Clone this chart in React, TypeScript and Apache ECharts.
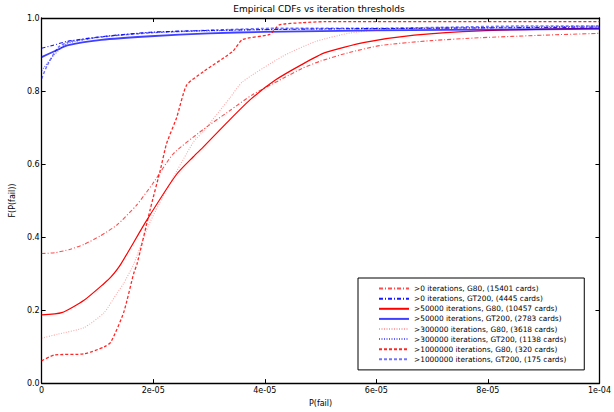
import React, { useEffect, useRef } from "react";
import * as echarts from "echarts";

const legendNames = [
  ">0 iterations, G80, (15401 cards)",
  ">0 iterations, GT200, (4445 cards)",
  ">50000 iterations, G80, (10457 cards)",
  ">50000 iterations, GT200, (2783 cards)",
  ">300000 iterations, G80, (3618 cards)",
  ">300000 iterations, GT200, (1138 cards)",
  ">1000000 iterations, G80, (320 cards)",
  ">1000000 iterations, GT200, (175 cards)",
];

const xTicks = [0, 2e-5, 4e-5, 6e-5, 8e-5, 1e-4];
const yTicks = [0, 0.2, 0.4, 0.6, 0.8, 1.0];

// >0 iterations, G80
const g80_0_x = [0, 0.23e-5, 0.5e-5, 0.76e-5, 1.05e-5, 1.35e-5, 1.7e-5, 2.0e-5, 2.36e-5, 2.9e-5, 3.37e-5, 3.78e-5, 4.32e-5, 4.67e-5, 5.0e-5, 5.5e-5, 6.09e-5, 6.98e-5, 7.87e-5, 9.0e-5, 1e-4];
const g80_0_y = [0.355, 0.357, 0.366, 0.38, 0.403, 0.433, 0.487, 0.548, 0.628, 0.695, 0.746, 0.79, 0.834, 0.862, 0.882, 0.905, 0.925, 0.938, 0.946, 0.953, 0.958];

// >0 iterations, GT200
const gt200_0_x = [0, 0.2e-5, 0.46e-5, 1.07e-5, 1.95e-5, 3.0e-5, 5.0e-5, 7.0e-5, 1e-4];
const gt200_0_y = [0.917, 0.925, 0.936, 0.949, 0.961, 0.966, 0.97, 0.972, 0.975];

// >50000 iterations, G80
const g80_50k_x = [0, 0.36e-5, 0.76e-5, 1.12e-5, 1.24e-5, 1.42e-5, 1.88e-5, 2.42e-5, 2.72e-5, 2.9e-5, 3.3e-5, 3.73e-5, 4.19e-5, 4.67e-5, 5.08e-5, 5.79e-5, 6.68e-5, 7.87e-5, 1e-4];
const g80_50k_y = [0.187, 0.193, 0.227, 0.273, 0.29, 0.326, 0.445, 0.572, 0.62, 0.647, 0.71, 0.775, 0.83, 0.873, 0.905, 0.933, 0.953, 0.965, 0.972];

// >50000 iterations, GT200
const gt200_50k_x = [0, 0.23e-5, 0.46e-5, 1.07e-5, 1.95e-5, 3.0e-5, 4.0e-5, 6.0e-5, 1e-4];
const gt200_50k_y = [0.893, 0.909, 0.925, 0.94, 0.95, 0.958, 0.962, 0.966, 0.97];

// >300000 iterations, G80
const g80_300k_x = [0, 0.29e-5, 0.76e-5, 1.12e-5, 1.35e-5, 1.47e-5, 1.65e-5, 1.92e-5, 2.24e-5, 2.72e-5, 2.9e-5, 3.37e-5, 3.6e-5, 4.32e-5, 4.9e-5, 5.5e-5, 6.09e-5, 7.0e-5, 1e-4];
const g80_300k_y = [0.123, 0.134, 0.152, 0.193, 0.246, 0.273, 0.326, 0.433, 0.53, 0.66, 0.69, 0.78, 0.825, 0.895, 0.935, 0.958, 0.968, 0.972, 0.975];

// >300000 iterations, GT200
const gt200_300k_x = [0, 0.23e-5, 0.46e-5, 1.07e-5, 2.0e-5, 4.0e-5, 7.0e-5, 1e-4];
const gt200_300k_y = [0.856, 0.9, 0.93, 0.948, 0.96, 0.968, 0.972, 0.978];

// >1000000 iterations, G80
const g80_1m_x = [0, 0.23e-5, 0.76e-5, 1.12e-5, 1.24e-5, 1.47e-5, 1.65e-5, 1.71e-5, 1.95e-5, 2.13e-5, 2.24e-5, 2.42e-5, 2.6e-5, 2.9e-5, 3.43e-5, 3.6e-5, 4.09e-5, 4.26e-5, 4.67e-5, 5.08e-5, 1e-4];
const g80_1m_y = [0.061, 0.077, 0.08, 0.099, 0.112, 0.193, 0.3, 0.326, 0.478, 0.585, 0.656, 0.727, 0.816, 0.853, 0.909, 0.941, 0.955, 0.981, 0.987, 0.99, 0.99];

// >1000000 iterations, GT200
const gt200_1m_x = [0, 0.1e-5, 0.3e-5, 0.5e-5, 1.07e-5, 2.0e-5, 3.3e-5, 4.2e-5, 6.0e-5, 8.7e-5, 1e-4];
const gt200_1m_y = [0.834, 0.87, 0.92, 0.935, 0.948, 0.96, 0.968, 0.972, 0.972, 0.978, 0.978];

const zip = (xs: number[], ys: number[]) => xs.map((x, i) => [x, ys[i]]);

const fmtX = (v: number) => {
  if (Math.abs(v) < 1e-12) return "0";
  const e = Math.floor(Math.log10(v) + 1e-9);
  const m = Math.round(v / Math.pow(10, e));
  const ee = Math.abs(e);
  return `${m}e${e < 0 ? "-" : "+"}${ee < 10 ? "0" + ee : ee}`;
};

const FONT = "DejaVu Sans";

export default function App() {
  const ref = useRef<HTMLDivElement>(null);
  useEffect(() => {
    if (!ref.current) return;
    const chart = echarts.init(ref.current, null, { renderer: "svg" });
    const mk = (name: string, xs: number[], ys: number[], color: string, type: any, width: number, opacity: number) => ({
      name,
      type: "line",
      data: zip(xs, ys),
      showSymbol: false,
      symbol: "circle",
      smooth: 0.2,
      xAxisIndex: 0,
      yAxisIndex: 0,
      lineStyle: { color, type, width, opacity },
      itemStyle: { color, opacity },
      emphasis: { disabled: true },
    });
    const axisCommon = {
      axisLine: { show: true, onZero: false, lineStyle: { color: "#000", width: 1.3 } },
      axisTick: { show: true, inside: true, length: 4, lineStyle: { color: "#000" } },
      splitLine: { show: false },
    };
    chart.setOption({
      animation: false,
      backgroundColor: "#fff",
      title: {
        text: "Empirical CDFs vs iteration thresholds",
        left: 319,
        textAlign: "center",
        top: 4,
        padding: 0,
        textStyle: { fontFamily: FONT, fontSize: 9, fontWeight: "normal", color: "#000" },
      },
      grid: { left: 37, right: 13, top: 18, bottom: 20, containLabel: false },
      legend: {
        data: legendNames,
        orient: "vertical",
        left: 358,
        top: 278,
        padding: [7, 18, 7, 20],
        itemWidth: 30,
        itemHeight: 9,
        itemGap: 2.9,
        backgroundColor: "#fff",
        borderColor: "#000",
        borderWidth: 1,
        itemStyle: { opacity: 0, borderWidth: 0 },
        textStyle: { fontFamily: FONT, fontSize: 7.4, color: "#000" },
        selectedMode: false,
      },
      xAxis: [
        {
          type: "value",
          min: 0,
          max: 1e-4,
          interval: 2e-5,
          name: "P(fail)",
          nameLocation: "middle",
          nameGap: 13,
          nameTextStyle: { fontFamily: FONT, fontSize: 8, color: "#000" },
          axisLabel: { formatter: fmtX, fontFamily: FONT, fontSize: 8, color: "#000", margin: 3 },
          ...axisCommon,
        },
        {
          type: "value",
          position: "top",
          min: 0,
          max: 1e-4,
          interval: 2e-5,
          axisLabel: { show: false },
          ...axisCommon,
        },
      ],
      yAxis: [
        {
          type: "value",
          min: 0,
          max: 1,
          interval: 0.2,
          name: "F(P(fail))",
          nameLocation: "middle",
          nameGap: 25,
          nameTextStyle: { fontFamily: FONT, fontSize: 8, color: "#000" },
          axisLabel: { formatter: (v: number) => v.toFixed(1), fontFamily: FONT, fontSize: 8, color: "#000", margin: 2 },
          ...axisCommon,
        },
        {
          type: "value",
          position: "right",
          min: 0,
          max: 1,
          interval: 0.2,
          axisLabel: { show: false },
          ...axisCommon,
        },
      ],
      series: [
        mk(legendNames[0], g80_0_x, g80_0_y, "#ff0000", [4, 2, 1, 2], 1.1, 0.7),
        mk(legendNames[1], gt200_0_x, gt200_0_y, "#0000ff", [4, 2, 1, 2], 1.1, 0.9),
        mk(legendNames[2], g80_50k_x, g80_50k_y, "#ff0000", "solid", 1.2, 1),
        mk(legendNames[3], gt200_50k_x, gt200_50k_y, "#0000ff", "solid", 1.8, 0.75),
        mk(legendNames[4], g80_300k_x, g80_300k_y, "#ff0000", [1, 1.5], 1.1, 0.35),
        mk(legendNames[5], gt200_300k_x, gt200_300k_y, "#0000ff", [1, 1.5], 1.1, 0.6),
        mk(legendNames[6], g80_1m_x, g80_1m_y, "#ff0000", [3, 2], 1.3, 0.85),
        mk(legendNames[7], gt200_1m_x, gt200_1m_y, "#0000ff", [3, 2], 1.5, 0.55),
      ],
    });
    return () => chart.dispose();
  }, []);
  return <div ref={ref} style={{ width: 614, height: 412, position: "fixed", left: 0, top: 0 }} />;
}
